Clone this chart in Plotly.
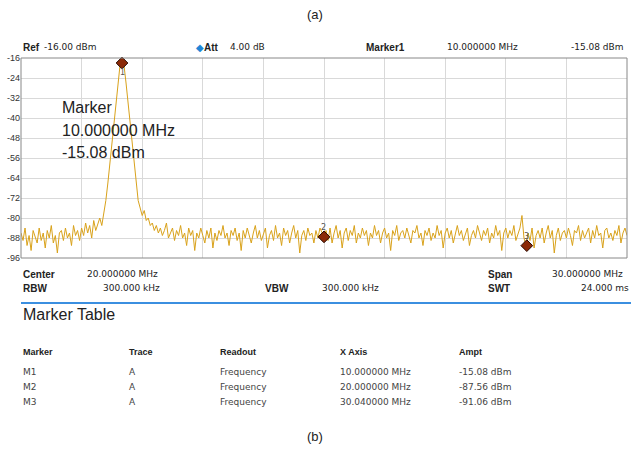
import numpy as np
import plotly.graph_objects as go

W, H = 631, 449

# ---------------- data ----------------
f_start, f_stop = 5.0, 35.0          # MHz (center 20, span 30)
amplitude = [
    -86, -89, -84, -91, -87, -93, -85, -88, -90, -84,
    -89, -86, -92, -85, -88, -83, -90, -87, -94, -86,
    -85, -89, -84, -88, -86, -91, -83, -87, -85, -89,
    -84, -87, -82, -86, -83, -88, -81, -85, -82, -80,
    -83, -78, -73, -66, -58, -50, -42, -34, -26, -19,
    -15.08,
    -19, -26, -34, -42, -50, -58, -66, -73, -76,
    -79, -77, -81, -80, -83, -82, -85, -83, -86, -84,
    -87, -85, -82, -88, -86, -84, -89, -85, -87, -83,
    -88, -86, -91, -84, -87, -85, -93, -86, -88, -84,
    -87, -90, -85, -88, -84, -92, -86, -89, -85, -87,
    -83, -88, -86, -91, -85, -87, -84, -89, -86, -93,
    -85, -88, -84, -87, -90, -86, -83, -88, -85, -89,
    -86, -84, -92, -87, -85, -89, -83, -88, -86, -91,
    -84, -87, -85, -90, -86, -83, -88, -85, -94, -87,
    -85, -89, -84, -87, -86, -90, -85, -88, -84, -86,
    -87.56, -85, -89, -84, -90, -86, -83, -88, -85, -92,
    -86, -84, -89, -85, -87, -83, -90, -86, -88, -84,
    -87, -85, -91, -86, -88, -83, -87, -85, -90, -86,
    -84, -88, -86, -93, -85, -87, -83, -89, -86, -85,
    -88, -84, -87, -90, -85, -86, -83, -88, -86, -91,
    -85, -87, -84, -89, -86, -88, -83, -87, -85, -92,
    -86, -84, -88, -85, -90, -86, -83, -87, -85, -89,
    -86, -84, -91, -87, -85, -88, -83, -86, -89, -85,
    -87, -84, -90, -86, -88, -83, -87, -85, -93, -86,
    -84, -88, -85, -87, -83, -89, -86, -84, -79, -88,
    -91, -86, -89, -84, -92, -87, -85, -88, -84, -90,
    -86, -83, -88, -85, -94, -87, -84, -89, -86, -85,
    -88, -84, -87, -91, -85, -86, -83, -89, -85, -88,
    -86, -84, -90, -85, -88, -83, -87, -86, -92, -85,
    -84, -88, -86, -89, -85, -87, -83, -90, -86, -84,
    -87,
]
freq = np.linspace(f_start, f_stop, len(amplitude))

marker_names = ["M1", "M2", "M3"]
marker_labels = ["1", "2", "3"]
marker_trace = ["A", "A", "A"]
marker_readout = ["Frequency", "Frequency", "Frequency"]
marker_freq = [10.0, 20.0, 30.04]
marker_ampt = [-15.08, -87.56, -91.06]

y_ticks = [-16, -24, -32, -40, -48, -56, -64, -72, -80, -88, -96]
y_top, y_bottom = -16, -96

# ---------------- layout helpers ----------------
def px(x):
    return x / W

def py(y):
    return 1 - y / H

x0, x1 = 21, 627
y0, y1 = 58, 258

# markers above the top of the screen are drawn just inside it
marker_disp = [min(a, y_top - 2) for a in marker_ampt]

fig = go.Figure()
fig.add_trace(go.Scatter(x=freq, y=amplitude, mode="lines",
                         line=dict(color="#D9A21B", width=1),
                         hoverinfo="skip", showlegend=False))
fig.add_trace(go.Scatter(x=marker_freq, y=marker_disp, mode="markers",
                         cliponaxis=False,
                         marker=dict(symbol="diamond", size=9, color="#8B2A08",
                                     line=dict(color="#2a0a00", width=1)),
                         showlegend=False))

ann = []
def T(x, y, text, size=9, family="DejaVu Sans", color="#222", xa="left", bold=False):
    if bold:
        text = "<b>" + text + "</b>"
    ann.append(dict(x=px(x), y=py(y), xref="paper", yref="paper", text=text,
                    showarrow=False, xanchor=xa, yanchor="middle",
                    font=dict(size=size, family=family, color=color)))

B = "Liberation Sans"
# captions
T(315, 14, "(a)", size=13, family=B, xa="center")
T(315, 436, "(b)", size=13, family=B, xa="center")
# header
T(21, 47, "Ref", size=10, family=B, bold=True)
T(42, 47, "-16.00 dBm", size=9)
T(194, 47, "<span style='color:#1f86d6'>◆</span><b>Att</b>", size=10, family=B)
T(228, 47, "4.00 dB", size=9)
T(364, 47, "Marker1", size=10, family=B, bold=True)
T(445, 47, "10.000000 MHz", size=9)
T(626, 47, "-15.08 dBm", size=9, xa="right")
# in-plot marker text
T(60, 107, "Marker", size=16, family=B)
T(60, 131, "10.000000 MHz", size=16, family=B)
T(60, 152, "-15.08 dBm", size=16, family=B)
# marker numbers
for lbl, f, a in zip(marker_labels, marker_freq, marker_disp):
    xp = x0 + (f - f_start) / (f_stop - f_start) * (x1 - x0)
    yp = y0 + (y_top - a) / (y_top - y_bottom) * (y1 - y0)
    if a > -30:
        T(xp, yp + 9, lbl, size=8, color="#555", xa="center")
    else:
        T(xp, yp - 9, lbl, size=8, color="#555", xa="center")
# bottom info
T(21, 274, "Center", size=10, family=B, bold=True)
T(85, 274, "20.000000 MHz", size=9)
T(21, 288, "RBW", size=10, family=B, bold=True)
T(162, 288, "300.000 kHz", size=9, xa="right")
T(263, 288, "VBW", size=10, family=B, bold=True)
T(320, 288, "300.000 kHz", size=9)
T(486, 274, "Span", size=10, family=B, bold=True)
T(550, 274, "30.000000 MHz", size=9)
T(486, 288, "SWT", size=10, family=B, bold=True)
T(631, 288, "24.000 ms", size=9, xa="right")
# marker table
T(21, 314, "Marker Table", size=16, family=B)
cols = [21, 127, 218, 338, 457]
heads = ["Marker", "Trace", "Readout", "X Axis", "Ampt"]
for c, h in zip(cols, heads):
    T(c, 352, h, size=9, family=B, bold=True, color="#222")
rows_y = [372, 387, 402]
for i in range(3):
    vals = [marker_names[i], marker_trace[i], marker_readout[i],
            f"{marker_freq[i]:.6f} MHz", f"{marker_ampt[i]:.2f} dBm"]
    for c, v in zip(cols, vals):
        T(c, rows_y[i], v, size=9, color="#444")

shapes = [
    dict(type="line", xref="paper", yref="paper", x0=px(21), x1=px(631),
         y0=py(303), y1=py(303), line=dict(color="#3b8fe0", width=2)),
    dict(type="rect", xref="paper", yref="paper", x0=px(x0), x1=px(x1),
         y0=py(y1), y1=py(y0), line=dict(color="#888", width=1)),
]

fig.update_layout(
    width=W, height=H,
    margin=dict(l=0, r=0, t=0, b=0, pad=0, autoexpand=False),
    paper_bgcolor="white", plot_bgcolor="white",
    annotations=ann, shapes=shapes, showlegend=False,
    xaxis=dict(domain=[px(x0), px(x1)], range=[f_start, f_stop], dtick=3, tick0=5,
               showticklabels=False, showgrid=True, gridcolor="#d9d9d9",
               zeroline=False, showline=False, ticks=""),
    yaxis=dict(domain=[py(y1), py(y0)], range=[y_bottom, y_top], tickvals=y_ticks,
               ticktext=[str(v) for v in y_ticks], showgrid=True,
               gridcolor="#d9d9d9", zeroline=False, showline=False, ticks="",
               tickfont=dict(size=9, family="Liberation Sans", color="#333")),
)

post = ("document.documentElement.style.margin='0';"
        "document.body.style.margin='0';document.body.style.padding='0';"
        "document.body.style.overflow='hidden';"
        "var gd=document.getElementById('{plot_id}');"
        "Plotly.relayout(gd,{width:631,height:449});")
fig.write_html("out.html", post_script=post, config={"displayModeBar": False})
